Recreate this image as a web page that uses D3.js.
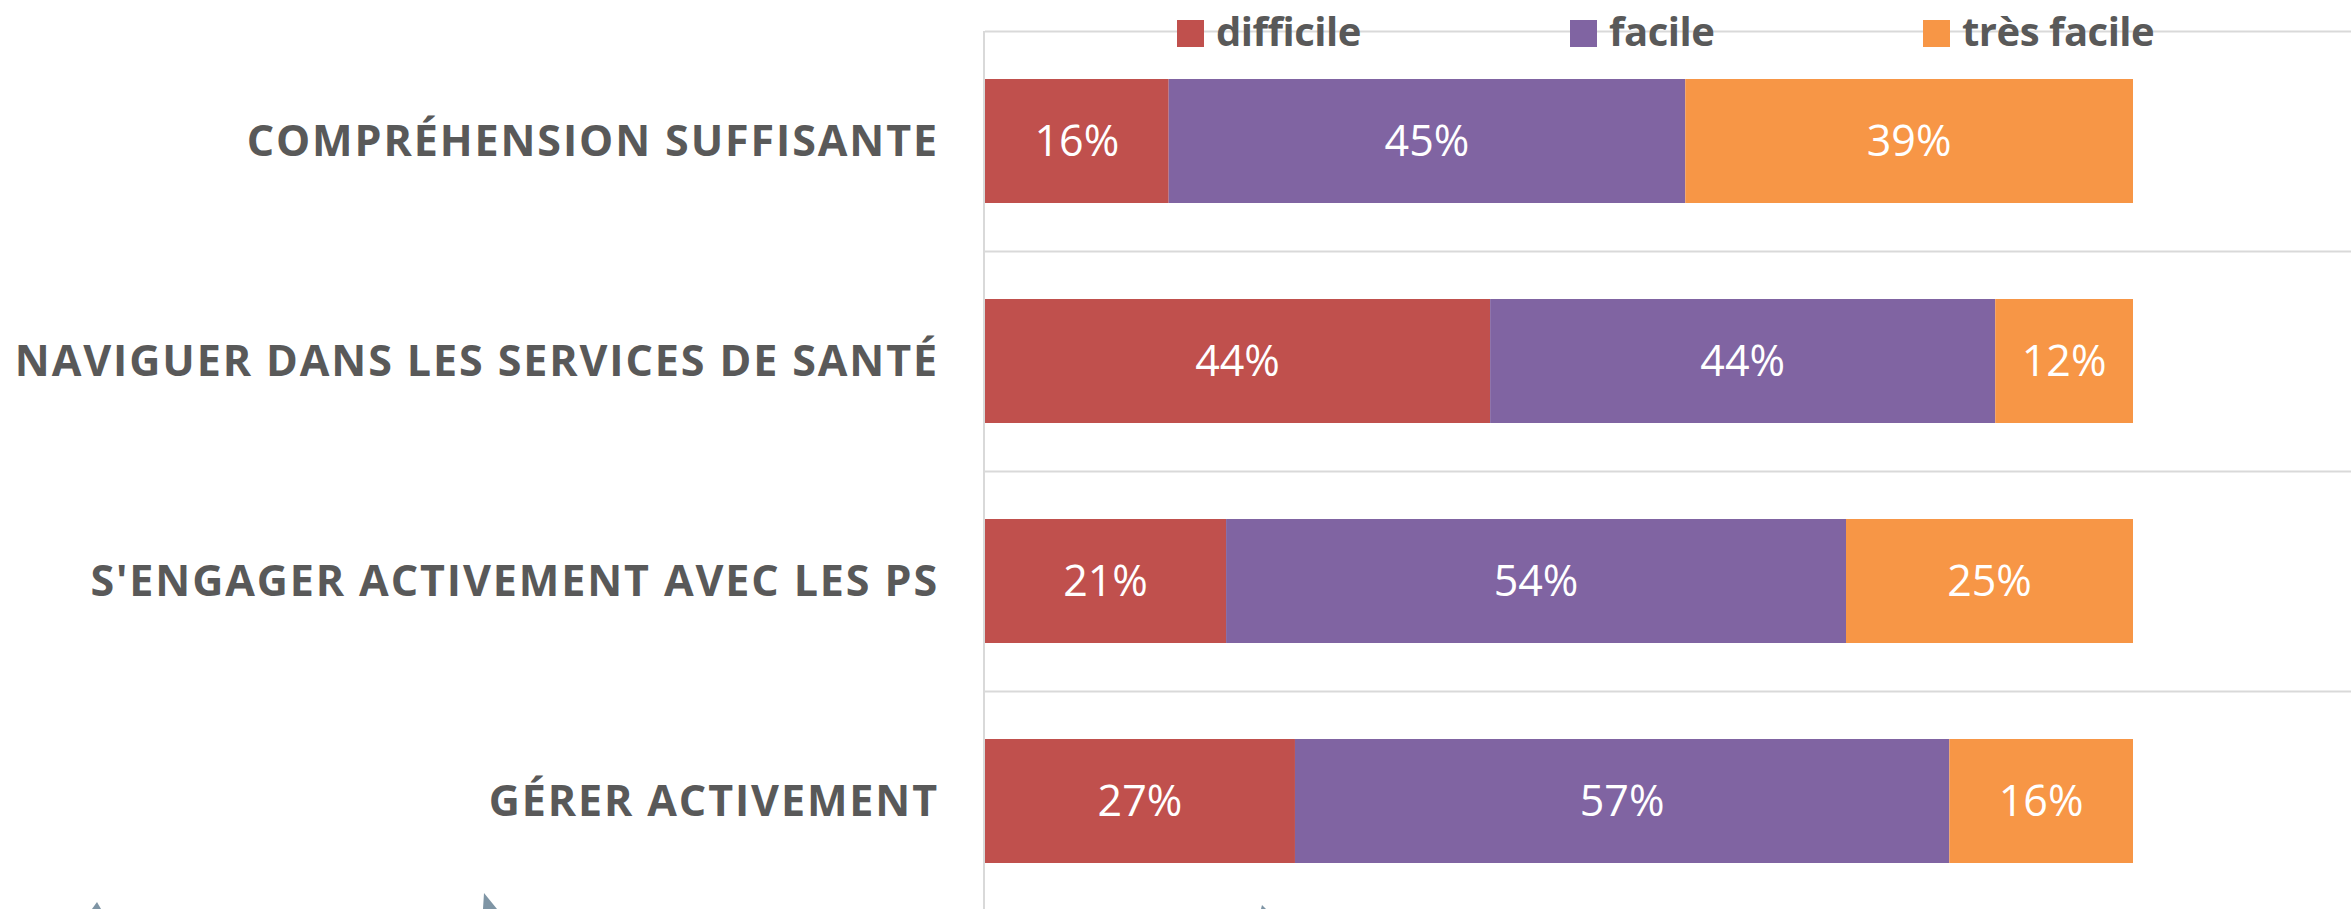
<!DOCTYPE html>
<html>
<head>
<meta charset="utf-8">
<script src="https://cdn.jsdelivr.net/npm/d3@7"></script>
<style>
  html, body { margin: 0; padding: 0; background: #ffffff; overflow: hidden; }
  svg { display: block; }
</style>
</head>
<body>
<svg id="chart" width="2351" height="909"></svg>
<script>
// ---- data ----
const categories = [
  "COMPRÉHENSION SUFFISANTE",
  "NAVIGUER DANS LES SERVICES DE SANTÉ",
  "S'ENGAGER ACTIVEMENT AVEC LES PS",
  "GÉRER ACTIVEMENT"
];
const seriesNames = ["difficile", "facile", "très facile"];
const difficile = [16, 44, 21, 27];
const facile = [45, 44, 54, 57];
const tresFacile = [39, 12, 25, 16];
const seriesColors = ["#C0504D", "#8064A2", "#F79646"];

// ---- layout ----
const W = 2351, H = 909;
const plotLeft = 985, plotFull = 2133, plotTop = 31, plotBottom = 911;
const svg = d3.select("#chart");

const rows = categories.map((c, i) => ({
  cat: c, difficile: difficile[i], facile: facile[i], tres: tresFacile[i]
}));
const keys = ["difficile", "facile", "tres"];
const stacked = d3.stack().keys(keys)(rows);

const x = d3.scaleLinear().domain([0, 100]).range([plotLeft, plotFull]);
const y = d3.scaleBand().domain(categories).range([plotTop, plotBottom])
  .paddingInner(0.4364).paddingOuter(0.2182);
const rowScale = d3.scaleBand().domain(categories).range([plotTop, plotBottom]).padding(0);

// gridlines (category boundaries)
const gridYs = categories.map(c => rowScale(c)).concat([plotBottom]);
svg.append("g").selectAll("line").data(gridYs).join("line")
  .attr("x1", plotLeft).attr("x2", W)
  .attr("y1", d => Math.round(d) + 0.5).attr("y2", d => Math.round(d) + 0.5)
  .attr("stroke", "#d9d9d9").attr("stroke-width", 2);

// vertical axis line
svg.append("line")
  .attr("x1", plotLeft - 1).attr("x2", plotLeft - 1)
  .attr("y1", plotTop).attr("y2", H)
  .attr("stroke", "#d9d9d9").attr("stroke-width", 2);

// bars
const groups = svg.append("g").selectAll("g").data(stacked).join("g")
  .attr("fill", (d, i) => seriesColors[i]);
groups.selectAll("rect").data(d => d).join("rect")
  .attr("x", d => x(d[0]))
  .attr("width", d => x(d[1]) - x(d[0]))
  .attr("y", d => y(d.data.cat))
  .attr("height", y.bandwidth());

// data labels
groups.selectAll("text").data(d => d).join("text")
  .attr("x", d => (x(d[0]) + x(d[1])) / 2)
  .attr("y", d => y(d.data.cat) + y.bandwidth() / 2)
  .attr("dy", "0.36em")
  .attr("text-anchor", "middle")
  .attr("fill", "#ffffff")
  .attr("font-family", "'Open Sans', sans-serif")
  .attr("font-size", 43)
  .text(d => (d[1] - d[0]) + "%");

// category labels
const yAxis = d3.axisLeft(rowScale).tickSize(0).tickPadding(0);
const ag = svg.append("g").attr("transform", `translate(939,0)`).call(yAxis);
ag.select(".domain").remove();
ag.selectAll("text")
  .attr("font-family", "'Open Sans', sans-serif")
  .attr("font-weight", "bold")
  .attr("font-size", 43)
  .attr("letter-spacing", "1.9px")
  .attr("fill", "#595959")
  .attr("dy", "0.36em");

// legend
const legendX = [1177, 1570, 1923];
const lg = svg.append("g").selectAll("g").data(seriesNames).join("g")
  .attr("transform", (d, i) => `translate(${legendX[i]},20)`);
lg.append("rect").attr("width", 27).attr("height", 27)
  .attr("fill", (d, i) => seriesColors[i]);
lg.append("text").attr("x", 39).attr("y", 26)
  .attr("font-family", "'Open Sans', sans-serif")
  .attr("font-weight", "bold")
  .attr("font-size", 40)
  .attr("letter-spacing", "-0.5px")
  .attr("fill", "#595959")
  .text(d => d);

// decorative fragments at the bottom edge
const deco = svg.append("g").attr("fill", "#7f95a5");
deco.append("path").attr("d", "M92,909 L97,902 L101,909 Z");
deco.append("path").attr("d", "M483,909 L484,893 L497,909 Z");
deco.append("path").attr("d", "M1261,909 L1262,905 L1266,909 Z");
</script>
</body>
</html>
